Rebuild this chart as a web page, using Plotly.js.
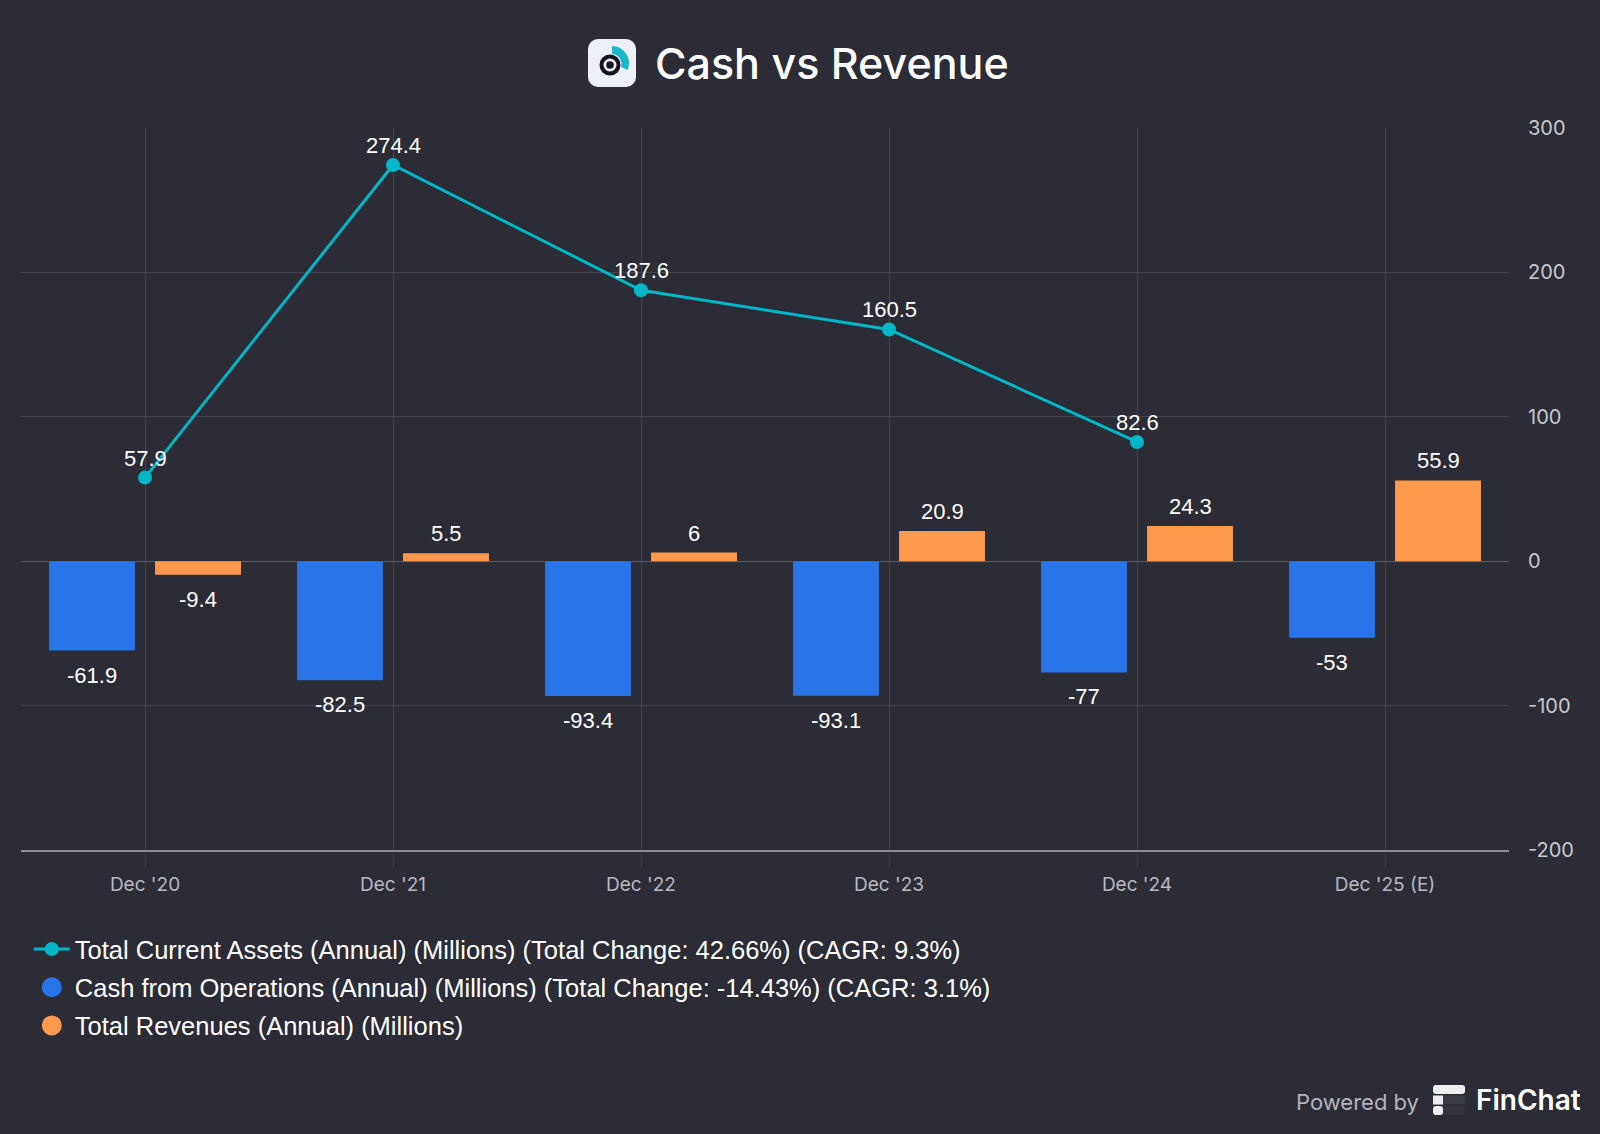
<!DOCTYPE html>
<html>
<head>
<meta charset="utf-8">
<script src="https://cdn.plot.ly/plotly-3.0.1.min.js"></script>
<style>
  html, body { margin: 0; padding: 0; background: #2b2c35; }
  #chart { width: 1600px; height: 1134px; }
</style>
</head>
<body>
<div id="chart"></div>
<script>
// ---- data ----
const categories = ["Dec '20", "Dec '21", "Dec '22", "Dec '23", "Dec '24", "Dec '25 (E)"];
const totalCurrentAssets = [57.9, 274.4, 187.6, 160.5, 82.6, null];
const cashFromOperations = [-61.9, -82.5, -93.4, -93.1, -77, -53];
const totalRevenues = [-9.4, 5.5, 6, 20.9, 24.3, 55.9];
const yTickValues = [-200, -100, 0, 100, 200, 300];
const legendNames = [
  "Total Current Assets (Annual) (Millions) (Total Change: 42.66%) (CAGR: 9.3%)",
  "Cash from Operations (Annual) (Millions) (Total Change: -14.43%) (CAGR: 3.1%)",
  "Total Revenues (Annual) (Millions)"
];

const BG = '#2b2c35';
const TEAL = '#00b7c7';
const BLUE = '#2873e8';
const ORANGE = '#ff994d';
const LABEL_FONT = 'Liberation Sans, Arial, sans-serif';
const GEO_FONT = 'Inter, Lato, sans-serif';

const traces = [
  {
    type: 'bar', x: categories, y: cashFromOperations, name: legendNames[1],
    marker: { color: BLUE }, showlegend: false, hoverinfo: 'skip'
  },
  {
    type: 'bar', x: categories, y: totalRevenues, name: legendNames[2],
    marker: { color: ORANGE }, showlegend: false, hoverinfo: 'skip'
  },
  {
    type: 'scatter', mode: 'lines+markers', x: categories, y: totalCurrentAssets,
    name: legendNames[0], legendrank: 1, legendgroup: 'a',
    line: { color: TEAL, width: 3 },
    marker: { color: TEAL, size: 14 },
    cliponaxis: false, hoverinfo: 'skip'
  },
  // legend-only entries with circle symbols
  {
    type: 'scatter', mode: 'markers', x: [null], y: [null], name: legendNames[1],
    legendrank: 2, legendgroup: 'b',
    marker: { color: BLUE, size: 16, line: { color: BLUE, width: 4 } }, hoverinfo: 'skip'
  },
  {
    type: 'scatter', mode: 'markers', x: [null], y: [null], name: legendNames[2],
    legendrank: 3, legendgroup: 'c',
    marker: { color: ORANGE, size: 16, line: { color: ORANGE, width: 4 } }, hoverinfo: 'skip'
  }
];

// value labels as annotations (positioned through the axes)
const annotations = [];
categories.forEach((c, i) => {
  [[cashFromOperations, -53], [totalRevenues, 53]].forEach(([arr, xs]) => {
    const v = arr[i];
    if (v === null) return;
    annotations.push({
      x: c, y: v, xref: 'x', yref: 'y', text: String(v), showarrow: false,
      xshift: xs, yshift: v < 0 ? -10 : 5, yanchor: v < 0 ? 'top' : 'bottom',
      font: { color: '#ffffff', size: 22, family: LABEL_FONT }
    });
  });
  const a = totalCurrentAssets[i];
  if (a !== null) {
    annotations.push({
      x: c, y: a, xref: 'x', yref: 'y', text: String(a), showarrow: false,
      yshift: 5, yanchor: 'bottom',
      font: { color: '#ffffff', size: 22, family: LABEL_FONT }
    });
  }
});

const PL = 21, PR = 1509, PT = 128, PB = 850;
const px = v => (v - PL) / (PR - PL);
const py = v => (PB - v) / (PB - PT);

annotations.push(
  { xref: 'paper', yref: 'paper', x: px(653), y: py(63), xanchor: 'left', yanchor: 'middle',
    text: 'Cash vs Revenue', showarrow: false,
    font: { color: '#ffffff', size: 43, family: GEO_FONT, weight: 500 } },
  { xref: 'paper', yref: 'paper', x: px(1421), y: py(1102), xanchor: 'right', yanchor: 'middle',
    text: 'Powered by', showarrow: false,
    font: { color: '#b4b4bc', size: 22, family: GEO_FONT } },
  { xref: 'paper', yref: 'paper', x: px(1474), y: py(1100), xanchor: 'left', yanchor: 'middle',
    text: 'FinChat', showarrow: false,
    font: { color: '#ffffff', size: 28, family: GEO_FONT, weight: 600 } }
);

const iconSvg = "<svg xmlns='http://www.w3.org/2000/svg' width='48' height='48' viewBox='0 0 48 48'>" +
  "<rect width='48' height='48' rx='10' fill='#eef0f8'/>" +
  "<path d='M24 7 A17 17 0 0 1 39.5 31 L33 28 A10 10 0 0 0 24 15 Z' fill='#1ab8c8'/>" +
  "<circle cx='22' cy='26' r='10.5' fill='#14151c'/>" +
  "<circle cx='22' cy='26' r='6.5' fill='#eef0f8'/>" +
  "<circle cx='22' cy='26' r='3.8' fill='#14151c'/>" +
  "</svg>";
const logoSvg = "<svg xmlns='http://www.w3.org/2000/svg' width='32' height='30' viewBox='0 0 32 30'>" +
  "<rect x='0' y='0' width='32' height='9' rx='3' fill='#eeeeee'/>" +
  "<rect x='0' y='10.5' width='32' height='9' rx='2' fill='#3a3b45'/>" +
  "<rect x='0' y='10.5' width='10' height='9' fill='#eeeeee'/>" +
  "<rect x='0' y='21' width='32' height='9' rx='3' fill='#33343e'/>" +
  "<rect x='0' y='21' width='10' height='9' rx='3' fill='#eeeeee'/>" +
  "</svg>";
const uri = s => 'data:image/svg+xml;charset=utf-8,' + encodeURIComponent(s);

const layout = {
  width: 1600, height: 1134,
  paper_bgcolor: BG, plot_bgcolor: BG,
  margin: { l: PL, r: 1600 - PR, t: PT, b: 1134 - PB, pad: 0, autoexpand: false },
  barmode: 'group', bargap: 0.145, bargroupgap: 0.19,
  showlegend: true,
  hovermode: false,
  xaxis: {
    type: 'category', range: [-0.5, 5.5],
    showgrid: true, gridcolor: '#44454f', gridwidth: 1,
    ticks: 'outside', ticklen: 16, tickcolor: '#3c3d47', tickwidth: 1,
    showline: true, linecolor: '#8c8c94', linewidth: 2,
    tickfont: { color: '#b8b8c0', size: 19, family: GEO_FONT },
    fixedrange: true, automargin: false
  },
  yaxis: {
    side: 'right', range: [-200, 300], tickvals: yTickValues,
    ticktext: yTickValues.map(String),
    showgrid: true, gridcolor: '#44454f', gridwidth: 1,
    zeroline: true, zerolinecolor: '#5a5b64', zerolinewidth: 1,
    showline: false, ticks: '', ticklabelstandoff: 18,
    tickfont: { color: '#c8c8cc', size: 20, family: GEO_FONT },
    fixedrange: true, automargin: false
  },
  legend: {
    xref: 'container', yref: 'container', x: 0.018, y: 1 - 926 / 1134,
    xanchor: 'left', yanchor: 'top', orientation: 'v',
    bgcolor: 'rgba(0,0,0,0)', tracegroupgap: 2, itemwidth: 36,
    font: { color: '#ffffff', size: 25.5, family: LABEL_FONT },
    itemclick: false, itemdoubleclick: false
  },
  annotations: annotations,
  images: [
    { source: uri(iconSvg), xref: 'paper', yref: 'paper', x: px(588), y: py(39),
      sizex: 48 / (PR - PL), sizey: 48 / (PB - PT), xanchor: 'left', yanchor: 'top',
      sizing: 'stretch', layer: 'above' },
    { source: uri(logoSvg), xref: 'paper', yref: 'paper', x: px(1433), y: py(1085),
      sizex: 32 / (PR - PL), sizey: 30 / (PB - PT), xanchor: 'left', yanchor: 'top',
      sizing: 'stretch', layer: 'above' }
  ]
};

Plotly.newPlot('chart', traces, layout, { displayModeBar: false, staticPlot: true });
</script>
</body>
</html>
